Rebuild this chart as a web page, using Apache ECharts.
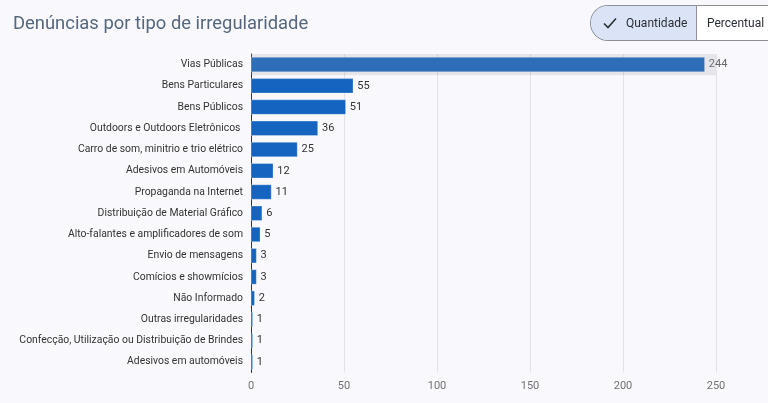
<!DOCTYPE html>
<html>
<head>
<meta charset="utf-8">
<script src="https://cdn.jsdelivr.net/npm/echarts@6/dist/echarts.min.js"></script>
<style>
  html, body { margin: 0; padding: 0; background: #f9f9fd; }
  #chart { width: 768px; height: 403px; }
  .toggle {
    position: absolute; left: 590px; top: 5px; height: 34px;
    display: flex; border: 1px solid #8a8f98; border-right: none;
    border-radius: 18px 0 0 18px; overflow: hidden;
    font-family: Roboto, sans-serif; font-size: 12px; color: #2b2f36;
  }
  .toggle div { display: flex; align-items: center; }
  .toggle .on { background: #dbe3f6; width: 106px; border-right: 1px solid #8a8f98; padding-left: 12px; box-sizing: border-box; }
  .toggle .on svg { margin-right: 9px; }
  .toggle .off { background: #ffffff; width: 90px; padding-left: 10px; box-sizing: border-box; }
</style>
</head>
<body>
<div id="chart"></div>
<div class="toggle">
  <div class="on">
    <svg width="14" height="12" viewBox="0 0 14 12"><path d="M1 6.5 L5 10.5 L13 1.5" fill="none" stroke="#2b2f36" stroke-width="1.6"/></svg>
    Quantidade
  </div>
  <div class="off">Percentual</div>
</div>
<script>
  const categories = [
    'Vias Públicas',
    'Bens Particulares',
    'Bens Públicos',
    'Outdoors e Outdoors Eletrônicos ',
    'Carro de som, minitrio e trio elétrico',
    'Adesivos em Automóveis',
    'Propaganda na Internet',
    'Distribuição de Material Gráfico',
    'Alto-falantes e amplificadores de som',
    'Envio de mensagens',
    'Comícios e showmícios',
    'Não Informado',
    'Outras irregularidades',
    'Confecção, Utilização ou Distribuição de Brindes',
    'Adesivos em automóveis'
  ];
  const counts = [244, 55, 51, 36, 25, 12, 11, 6, 5, 3, 3, 2, 1, 1, 1];
  const xTicks = { min: 0, max: 250, interval: 50 };

  const chartDom = document.getElementById('chart');
  const myChart = echarts.init(chartDom);

  const option = {
    animation: false,
    backgroundColor: '#f9f9fd',
    textStyle: { fontFamily: 'Roboto' },
    title: {
      text: 'Denúncias por tipo de irregularidade',
      left: 8,
      top: 10,
      textStyle: { fontSize: 18.4, fontWeight: 'normal', color: '#56677d', fontFamily: 'Roboto' }
    },
    tooltip: {
      trigger: 'axis',
      showContent: false,
      axisPointer: { type: 'shadow', shadowStyle: { color: 'rgba(150,150,158,0.2)' } }
    },
    grid: { left: 251, right: 52, top: 54, bottom: 30.5 },
    xAxis: {
      type: 'value',
      min: xTicks.min,
      max: xTicks.max,
      interval: xTicks.interval,
      axisLabel: { color: '#6e7079', fontSize: 11 },
      splitLine: { lineStyle: { color: '#e0e3ea' } }
    },
    yAxis: {
      type: 'category',
      inverse: true,
      data: categories,
      axisTick: { show: false },
      axisLine: { lineStyle: { color: '#333' } },
      axisLabel: { color: '#333', fontSize: 10.4, margin: 8 }
    },
    series: [
      {
        type: 'bar',
        barWidth: 15,
        emphasis: { disabled: true },
        data: counts.map((v, i) => i === 0
          ? { value: v, label: { color: '#666' } }
          : v),
        itemStyle: { color: '#1565c0', borderColor: 'rgba(255,255,255,0.6)', borderWidth: 0.5 },
        label: { show: true, position: 'right', distance: 4, color: '#333', fontSize: 11 }
      }
    ]
  };

  myChart.setOption(option);
  myChart.dispatchAction({ type: 'showTip', seriesIndex: 0, dataIndex: 0 });
</script>
</body>
</html>
